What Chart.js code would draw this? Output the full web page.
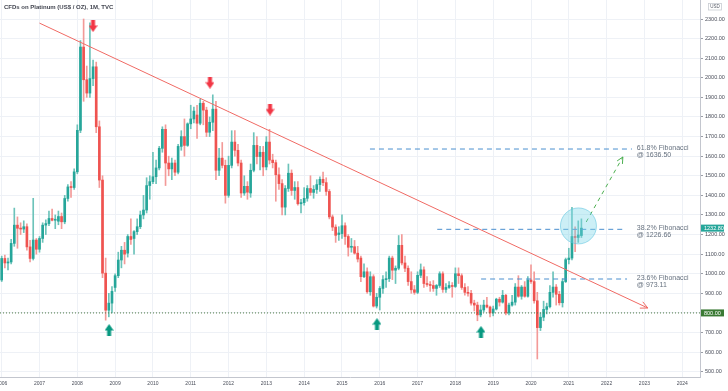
<!DOCTYPE html>
<html><head><meta charset="utf-8">
<script src="https://cdn.jsdelivr.net/npm/chart.js@4.4.1/dist/chart.umd.min.js"></script>
<style>html,body{margin:0;padding:0;background:#fff;overflow:hidden}#wrap{position:relative;width:728px;height:391px}</style>
</head><body><div id="wrap"><canvas id="c" width="728" height="391"></canvas></div>
<script>
const titleText = 'CFDs on Platinum (US$ / OZ), 1M, TVC';
const firstYear = 2006; // first candle: Jan 2006, one candle per month
const opens = [
 968,1078,1055,1060,1155,1248,1232,1228,1240,1137,1078,1172,
 1125,1180,1248,1256,1282,1273,1268,1292,1265,1384,1445,1440,
 1520,1732,2157,1990,1922,1996,2056,1750,1478,1003,814,850,
 930,990,1070,1120,1105,1190,1180,1215,1240,1300,1325,1450,
 1470,1495,1540,1640,1737,1565,1535,1565,1518,1650,1700,1655,
 1765,1790,1810,1768,1870,1835,1722,1773,1840,1528,1590,1553,
 1400,1553,1672,1630,1565,1412,1446,1412,1528,1655,1598,1620,
 1545,1672,1580,1567,1505,1460,1340,1435,1513,1425,1440,1357,
 1363,1385,1435,1415,1430,1455,1482,1465,1420,1290,1238,1200,
 1205,1245,1190,1135,1138,1105,1080,985,1010,908,985,835,
 880,925,970,975,1080,1018,1028,1145,1055,1028,960,918,
 905,992,1020,950,945,940,925,940,1000,920,930,940,
 935,1000,990,930,905,900,850,840,790,815,840,830,
 800,820,870,855,890,800,840,855,932,885,932,885,
 968,960,862,725,778,818,832,905,932,895,852,960,
 1072,1080,1190,1185,1195];
const highs = [
 1090,1095,1080,1175,1335,1290,1260,1270,1255,1170,1385,1180,
 1190,1260,1275,1320,1330,1300,1320,1310,1400,1455,1470,1535,
 1760,2190,2300,2060,2280,2090,2080,1780,1500,1080,900,935,
 1000,1110,1140,1160,1200,1280,1220,1280,1320,1400,1490,1500,
 1620,1580,1650,1750,1760,1600,1590,1580,1660,1730,1790,1770,
 1860,1850,1860,1890,1880,1850,1800,1913,1880,1640,1670,1580,
 1600,1730,1730,1660,1580,1500,1470,1560,1720,1700,1650,1650,
 1700,1737,1610,1580,1540,1480,1450,1560,1530,1470,1470,1380,
 1440,1450,1500,1450,1480,1495,1519,1490,1430,1300,1250,1240,
 1300,1260,1200,1180,1170,1140,1090,1050,1030,1010,995,900,
 935,990,1010,1090,1090,1040,1195,1200,1090,1040,1010,940,
 1010,1050,1035,985,960,965,945,1010,1010,950,960,955,
 1030,1030,1000,950,935,915,865,855,840,865,880,835,
 835,875,880,915,895,850,890,950,990,940,960,985,
 1045,1010,905,800,860,850,940,1010,945,910,975,1080,
 1130,1339,1240,1270,1280];
const lows = [
 960,1030,1020,1050,1140,1130,1200,1210,1120,1060,1070,1100,
 1110,1160,1200,1245,1270,1230,1250,1230,1255,1370,1390,1430,
 1510,1720,1880,1900,1900,1960,1720,1440,980,763,780,800,
 910,980,1030,1050,1085,1150,1100,1200,1230,1280,1310,1380,
 1460,1460,1530,1620,1450,1500,1480,1500,1510,1630,1600,1650,
 1740,1770,1690,1760,1760,1700,1700,1730,1480,1500,1540,1360,
 1390,1540,1600,1550,1390,1400,1380,1390,1520,1560,1530,1500,
 1530,1560,1540,1370,1430,1300,1300,1420,1400,1380,1350,1310,
 1350,1370,1400,1385,1410,1420,1450,1400,1280,1220,1160,1170,
 1180,1150,1090,1110,1100,1060,960,980,900,890,830,825,
 815,900,930,960,970,950,1020,1045,1010,940,900,895,
 898,980,930,935,910,910,890,930,905,905,925,880,
 930,950,920,890,885,840,810,760,780,805,825,780,
 785,815,835,850,790,790,835,840,880,870,880,880,
 950,850,565,710,760,795,825,880,840,840,830,955,
 1050,1070,1112,1160,1185];
const closes = [
 1078,1055,1058,1155,1248,1232,1228,1240,1137,1078,1172,1125,
 1180,1248,1256,1282,1273,1275,1292,1265,1384,1443,1440,1520,
 1732,2157,1990,1922,1996,2056,1750,1478,1003,814,850,910,
 990,1070,1120,1100,1190,1175,1215,1240,1300,1325,1450,1470,
 1495,1540,1640,1737,1565,1535,1565,1518,1650,1700,1655,1765,
 1790,1830,1768,1870,1835,1722,1773,1840,1528,1590,1553,1400,
 1553,1672,1630,1565,1412,1446,1416,1528,1655,1598,1620,1545,
 1672,1580,1567,1505,1460,1340,1435,1513,1425,1440,1357,1363,
 1385,1435,1415,1430,1455,1482,1465,1420,1290,1238,1196,1208,
 1245,1190,1135,1138,1105,1075,985,1010,908,985,835,880,
 925,970,975,1080,1018,1028,1145,1055,1028,960,918,905,
 992,1020,950,945,940,925,940,1000,920,930,940,935,
 1000,990,930,905,900,850,840,790,815,840,830,800,
 820,870,855,890,800,840,855,932,885,932,885,968,
 960,862,725,778,818,832,905,932,895,852,960,1072,
 1080,1190,1185,1198,1232.8];
const yearTicks = [2006,2007,2008,2009,2010,2011,2012,2013,2014,2015,2016,2017,2018,2019,2020,2021,2022,2023,2024];
const priceTicks = [500,600,700,800,900,1000,1100,1200,1300,1400,1500,1600,1700,1800,1900,2000,2100,2200,2300];
const fibLevels = [973.11, 1226.66, 1636.50];
const fibNames = ['23.6% Fibonacci','38.2% Fibonacci','61.8% Fibonacci'];
const fibFrom = [2018.68, 2017.52, 2015.74];
const fibTo = [2022.54, 2022.44, 2022.67];
const fibLabelAt = 2022.80;
const supportLevel = 800;
const lastPrice = 1232.80;
const trendFrom = {x: 2007.0, y: 2279};
const trendTo = {x: 2023.09, y: 825};
const projFrom = {x: 2021.46, y: 1264};
const projTo = {x: 2022.43, y: 1596};
const highlight = {x: 2021.255, y: 1244};
const topMarks = [{x: 2008.415, y: 2264}, {x: 2011.509, y: 1975}, {x: 2013.097, y: 1838}];
const bottomMarks = [{x: 2008.84, y: 713}, {x: 2015.926, y: 743}, {x: 2018.677, y: 703}];

const UP = '#26a69a', DOWN = '#ef5350';
const UP_WICK = '#6cc3ba', DOWN_WICK = '#f39a98';
const when = closes.map((c, i) => firstYear + i / 12);
const rising = closes.map((c, i) => c >= opens[i]);

function makeArrow(color, down) {
  const cv = document.createElement('canvas');
  cv.width = 9; cv.height = 12;
  const g = cv.getContext('2d');
  g.fillStyle = color;
  g.beginPath();
  if (down) {
    g.rect(2.5, 0, 4, 5.5);
    g.moveTo(0, 5.5); g.lineTo(9, 5.5); g.lineTo(4.5, 12); g.closePath();
  } else {
    g.moveTo(4.5, 0); g.lineTo(9, 6.5); g.lineTo(0, 6.5); g.closePath();
    g.rect(2.5, 6.5, 4, 5.5);
  }
  g.fill();
  return cv;
}

function arrowHead(ctx, xs, ys, a, b, color, len) {
  const x1 = xs.getPixelForValue(a.x), y1 = ys.getPixelForValue(a.y);
  const x2 = xs.getPixelForValue(b.x), y2 = ys.getPixelForValue(b.y);
  const ang = Math.atan2(y2 - y1, x2 - x1);
  ctx.strokeStyle = color; ctx.lineWidth = 1; ctx.setLineDash([]);
  ctx.beginPath();
  ctx.moveTo(x2 - len * Math.cos(ang - 0.45), y2 - len * Math.sin(ang - 0.45));
  ctx.lineTo(x2, y2);
  ctx.lineTo(x2 - len * Math.cos(ang + 0.45), y2 - len * Math.sin(ang + 0.45));
  ctx.stroke();
}

const FONT = '"Liberation Sans", Arial, sans-serif';
const overlay = {
  id: 'overlay',
  afterDatasetsDraw(chart) {
    const {ctx, scales: {x, y}} = chart;
    ctx.save();
    arrowHead(ctx, x, y, trendFrom, trendTo, '#f06a64', 8);
    arrowHead(ctx, x, y, projFrom, projTo, '#4caf50', 7);
    ctx.font = '7px ' + FONT;
    ctx.fillStyle = '#66717f';
    ctx.textBaseline = 'middle';
    ctx.textAlign = 'left';
    fibLevels.forEach((lv, i) => {
      const py = y.getPixelForValue(lv);
      const px = x.getPixelForValue(fibLabelAt);
      ctx.fillText(fibNames[i], px, py - 1);
      ctx.fillText('@ ' + lv.toFixed(2), px, py + 6);
    });
    ctx.font = 'bold 6px ' + FONT;
    ctx.fillStyle = '#434651';
    ctx.fillText(titleText, 4, 7);
    ctx.restore();
  },
  afterDraw(chart) {
    const {ctx, scales: {y}, chartArea} = chart;
    ctx.save();
    const bx = chartArea.right;
    function box(val, bg) {
      const py = y.getPixelForValue(val);
      ctx.fillStyle = bg;
      ctx.fillRect(bx + 1, py - 3.5, 23, 7);
      ctx.fillStyle = '#ffffff';
      ctx.font = '5.5px ' + FONT;
      ctx.textAlign = 'left'; ctx.textBaseline = 'middle';
      ctx.fillText(val.toFixed(2), bx + 4, py + 0.3);
    }
    box(lastPrice, UP);
    box(supportLevel, '#3a7a34');
    ctx.strokeStyle = '#c9ccd3'; ctx.lineWidth = 0.8;
    ctx.strokeRect(708.5, 3.5, 13, 6.5);
    ctx.fillStyle = '#555a66'; ctx.font = '4.5px ' + FONT;
    ctx.textAlign = 'center'; ctx.textBaseline = 'middle';
    ctx.fillText('USD', 715, 7);
    ctx.restore();
  }
};

const xMin = 2005.955, xMax = 2024.47;
new Chart(document.getElementById('c'), {
  type: 'bar',
  data: {
    datasets: [
      { type: 'bubble', data: [{x: highlight.x, y: highlight.y, r: 18}],
        backgroundColor: 'rgba(120,212,232,0.38)', borderColor: 'rgba(90,195,222,0.55)', borderWidth: 1, order: 1 },
      { type: 'scatter', data: topMarks, pointStyle: makeArrow('#f23645', true), pointRadius: 5, order: 0 },
      { type: 'scatter', data: bottomMarks, pointStyle: makeArrow('#089981', false), pointRadius: 5, order: 0 },
      { type: 'line', data: [trendFrom, trendTo], borderColor: '#f06a64', borderWidth: 1, pointRadius: 0, order: 2 },
      { type: 'line', data: [projFrom, projTo], borderColor: '#4caf50', borderWidth: 1, borderDash: [4, 4], pointRadius: 0, order: 2 },
      { type: 'line', data: [{x: xMin, y: supportLevel}, {x: xMax, y: supportLevel}], borderColor: '#4d7a46', borderWidth: 1, borderDash: [1, 2], pointRadius: 0, order: 3 },
      ...fibLevels.map((lv, i) => ({ type: 'line', data: [{x: fibFrom[i], y: lv}, {x: fibTo[i], y: lv}],
        borderColor: '#4a8fcf', borderWidth: 1, borderDash: [5, 4], pointRadius: 0, order: 3 })),
      { type: 'bar', data: closes.map((c, i) => ({x: when[i], y: [lows[i], highs[i]]})),
        backgroundColor: rising.map(r => r ? UP_WICK : DOWN_WICK), barThickness: 1, grouped: false, order: 6 },
      { type: 'bar', data: closes.map((c, i) => ({x: when[i], y: [opens[i], c]})),
        backgroundColor: rising.map(r => r ? UP : DOWN), barThickness: 2, minBarLength: 1, grouped: false, order: 5 }
    ]
  },
  options: {
    responsive: false, animation: false, devicePixelRatio: 1, events: [],
    layout: { padding: 0, autoPadding: false },
    plugins: { legend: { display: false }, tooltip: { enabled: false }, title: { display: false } },
    scales: {
      x: {
        type: 'linear', min: xMin, max: xMax, offset: false,
        afterBuildTicks: s => { s.ticks = yearTicks.map(v => ({value: v})); },
        afterFit: s => { s.height = 14; s.paddingLeft = 0; s.paddingRight = 0; },
        grid: { color: '#eef1f6', drawTicks: false, offset: false },
        border: { color: '#c3c6ce' },
        ticks: { callback: v => String(v), font: { size: 5, family: FONT }, color: '#4a4e5a', padding: 4, maxRotation: 0, autoSkip: false }
      },
      y: {
        position: 'right', min: 473, max: 2397,
        afterBuildTicks: s => { s.ticks = priceTicks.map(v => ({value: v})); },
        afterFit: s => { s.width = 28; s.paddingTop = 0; s.paddingBottom = 0; },
        grid: { color: '#eef1f6', drawTicks: true, tickLength: 3, tickColor: '#9a9da6' },
        border: { color: '#c3c6ce' },
        ticks: { callback: v => v.toFixed(2), font: { size: 5.5, family: FONT }, color: '#4a4e5a', padding: 2 }
      }
    }
  },
  plugins: [overlay]
});
</script>
</body></html>
